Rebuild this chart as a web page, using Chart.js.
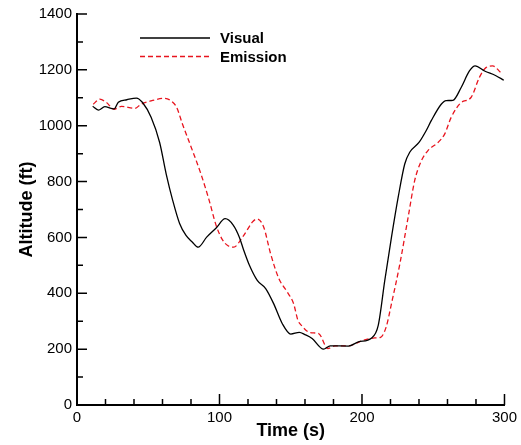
<!DOCTYPE html>
<html>
<head>
<meta charset="utf-8">
<script src="https://cdn.jsdelivr.net/npm/chart.js@4"></script>
<style>
  html, body { margin: 0; padding: 0; background: #fff; }
  #wrap { width: 521px; height: 445px; }
</style>
</head>
<body>
<div id="wrap"><canvas id="altChart" width="521" height="445"></canvas></div>
<script>
// Altitude vs time
const visualTime = [11, 15, 19.5, 24, 26, 29, 35, 41.7, 46, 52, 58, 62.6, 67.2, 72, 76.5, 81, 85, 91, 97.5, 104,
  109.5, 114, 117, 121, 126.5, 132.4, 138, 144, 150, 156, 160, 165, 173, 177.7, 190.5, 197.5, 206.8, 211.4, 216,
  220.7, 225.4, 230, 233.5, 240, 245, 248.6, 255.6, 259, 263.8, 269.6, 275.4, 279.4, 286, 294, 299.5];
const visualAlt = [1070, 1056, 1068, 1062, 1060, 1084, 1093, 1099, 1083, 1030, 940, 827, 732, 650, 607, 583, 565, 601, 633, 667,
  645, 600, 554, 500, 446, 417, 363, 292, 254, 260, 252, 238, 200, 212, 211, 226, 240, 285, 446,
  601, 744, 863, 905, 940, 982, 1018, 1077, 1090, 1091, 1137, 1196, 1214, 1196, 1179, 1163];

const emissionTime = [11.4, 16, 20.7, 26, 31.2, 40.5, 45, 52, 61.4, 66, 70, 74, 80, 87, 92.8, 97.5, 102, 106, 110, 116,
  120.7, 123, 126.5, 131, 135.9, 141.7, 147.5, 152, 155, 157.5, 163.8, 169.6, 176, 181, 190.5, 200, 209, 213, 217,
  220.7, 226.6, 232.4, 237, 241.7, 246.3, 253.3, 258, 262.6, 269.6, 276.5, 282.4, 287, 291.7, 297.5];
const emissionAlt = [1077, 1095, 1083, 1059, 1069, 1062, 1077, 1089, 1098, 1089, 1065, 1006, 925, 827, 732, 645, 592, 570, 565, 600,
  637, 655, 666, 637, 541, 452, 405, 363, 304, 285, 259, 256, 202, 212, 212, 230, 240, 242, 280,
  363, 506, 673, 804, 875, 911, 940, 970, 1030, 1083, 1101, 1173, 1208, 1214, 1190];

const seriesNames = ['Visual', 'Emission'];
const xTicks = [0, 100, 200, 300];
const yTicks = [0, 200, 400, 600, 800, 1000, 1200, 1400];

const FONT = '"Liberation Sans", Arial, sans-serif';

function toPoints(xs, ys) {
  return xs.map((x, i) => ({ x: x, y: ys[i] }));
}

// inward major/minor ticks plus the legend box
const decorPlugin = {
  id: 'decor',
  afterDraw(chart) {
    const ctx = chart.ctx;
    const xs = chart.scales.x;
    const ys = chart.scales.y;
    const a = chart.chartArea;
    ctx.save();
    ctx.strokeStyle = '#000';
    ctx.lineWidth = 1.5;
    ctx.beginPath();
    for (let v = 0; v <= 1400; v += 100) {
      const py = ys.getPixelForValue(v);
      const len = (v % 200 === 0) ? 10 : 6;
      ctx.moveTo(a.left, py);
      ctx.lineTo(a.left + len, py);
    }
    for (let v = 0; v <= 300; v += 20) {
      const px = xs.getPixelForValue(v);
      const len = (v % 100 === 0) ? 11 : 6;
      ctx.moveTo(px, a.bottom);
      ctx.lineTo(px, a.bottom - len);
    }
    ctx.stroke();

    // legend
    const ds = chart.data.datasets;
    const rows = [38, 56.5];
    ctx.font = 'bold 15px ' + FONT;
    ctx.textBaseline = 'middle';
    ctx.textAlign = 'left';
    ds.forEach((d, i) => {
      ctx.beginPath();
      ctx.strokeStyle = d.borderColor;
      ctx.lineWidth = d.borderWidth;
      ctx.setLineDash(d.borderDash || []);
      ctx.moveTo(140, rows[i]);
      ctx.lineTo(210, rows[i]);
      ctx.stroke();
      ctx.setLineDash([]);
      ctx.fillStyle = '#000';
      ctx.fillText(d.label, 220, rows[i] + 1);
    });
    ctx.restore();
  }
};

new Chart(document.getElementById('altChart'), {
  type: 'line',
  data: {
    datasets: [
      {
        label: seriesNames[0],
        data: toPoints(visualTime, visualAlt),
        borderColor: '#000',
        borderWidth: 1.3,
        pointRadius: 0,
        cubicInterpolationMode: 'monotone',
        fill: false
      },
      {
        label: seriesNames[1],
        data: toPoints(emissionTime, emissionAlt),
        borderColor: '#e8141e',
        borderWidth: 1.3,
        borderDash: [5, 3],
        pointRadius: 0,
        cubicInterpolationMode: 'monotone',
        fill: false
      }
    ]
  },
  options: {
    responsive: false,
    animation: false,
    events: [],
    layout: { padding: { top: 13, right: 14, left: 0, bottom: 0 } },
    plugins: {
      legend: { display: false },
      tooltip: { enabled: false }
    },
    scales: {
      x: {
        type: 'linear',
        min: 0,
        max: 300,
        afterBuildTicks: s => { s.ticks = xTicks.map(v => ({ value: v })); },
        afterFit: s => { s.height = 40; },
        grid: { display: false, drawTicks: false },
        border: { display: true, color: '#000', width: 2 },
        ticks: { color: '#000', padding: 4, font: { family: FONT, size: 15 }, callback: v => String(v) },
        title: {
          display: true,
          text: 'Time (s)',
          color: '#000',
          font: { family: FONT, size: 18, weight: 'bold' },
          padding: { top: 0, bottom: 3 }
        }
      },
      y: {
        min: 0,
        max: 1400,
        afterBuildTicks: s => { s.ticks = yTicks.map(v => ({ value: v })); },
        afterFit: s => { s.width = 77; },
        grid: { display: false, drawTicks: false },
        border: { display: true, color: '#000', width: 2 },
        ticks: { color: '#000', padding: 5, font: { family: FONT, size: 15 }, callback: v => String(v) },
        title: {
          display: true,
          text: 'Altitude (ft)',
          color: '#000',
          font: { family: FONT, size: 18, weight: 'bold' },
          padding: { top: 16, bottom: 0 }
        }
      }
    }
  },
  plugins: [decorPlugin]
});
</script>
</body>
</html>
